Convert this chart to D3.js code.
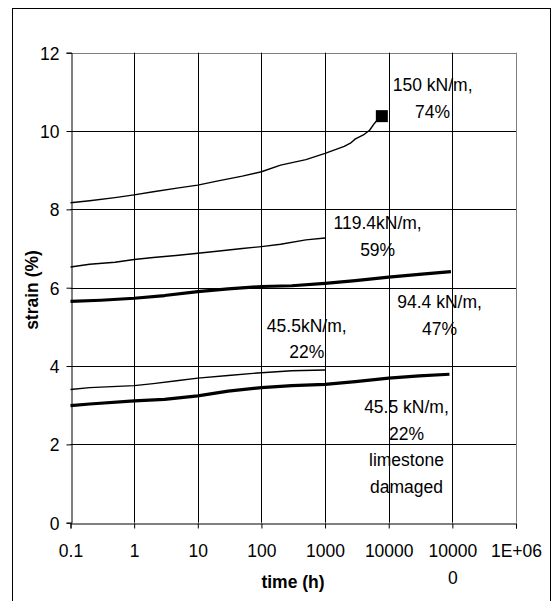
<!DOCTYPE html>
<html>
<head>
<meta charset="utf-8">
<script src="https://cdn.jsdelivr.net/npm/d3@7"></script>
<style>
  body { margin: 0; background: #fff; }
  svg text { font-family: "Liberation Sans", Arial, sans-serif; fill: #000; }
</style>
</head>
<body>
<svg id="chart" width="552" height="601"></svg>
<script>
// creep curves: [time (h), strain (%)]
const s150 = [[0.1,8.17],[0.2,8.22],[0.5,8.3],[1,8.37],[2,8.45],[5,8.55],[10,8.62],[20,8.72],[50,8.85],[100,8.96],[200,9.13],[500,9.27],[1000,9.43],[2000,9.61],[2500,9.69],[3000,9.8],[4000,9.9],[5000,10.02],[6000,10.2],[7000,10.33],[7800,10.38]];
const s119 = [[0.1,6.53],[0.2,6.6],[0.5,6.65],[1,6.72],[2,6.77],[5,6.83],[10,6.88],[20,6.93],[50,7.0],[100,7.05],[200,7.11],[500,7.22],[1000,7.27]];
const s94 = [[0.1,5.65],[0.3,5.68],[1,5.73],[3,5.8],[10,5.9],[30,5.97],[100,6.03],[300,6.05],[1000,6.11],[3000,6.18],[10000,6.27],[30000,6.34],[95000,6.41]];
const s45 = [[0.1,3.4],[0.2,3.45],[1,3.5],[2,3.55],[5,3.63],[10,3.69],[30,3.76],[100,3.83],[300,3.88],[1000,3.9]];
const s45d = [[0.1,2.99],[0.2,3.03],[1,3.11],[3,3.15],[10,3.24],[30,3.36],[100,3.45],[300,3.5],[1000,3.53],[3000,3.6],[10000,3.69],[30000,3.75],[90000,3.79]];

const seriesList = [
  { data: s150, thick: false },
  { data: s119, thick: false },
  { data: s94, thick: true },
  { data: s45, thick: false },
  { data: s45d, thick: true }
];

// failure point of the 150 kN/m test
const rupture = [7800, 10.38];

const xTicks = [0.1, 1, 10, 100, 1000, 10000, 100000, 1000000];
const xTickLabels = ["0.1", "1", "10", "100", "1000", "10000", "10000\n0", "1E+06"];
const yTicks = [0, 2, 4, 6, 8, 10, 12];

// annotation labels: anchor in data units (centre, first baseline)
const labels = [
  { time: 49000, strain: 11.02, lines: ["150 kN/m,", "74%"] },
  { time: 6700, strain: 7.49, lines: ["119.4kN/m,", "59%"] },
  { time: 63000, strain: 5.48, lines: ["94.4 kN/m,", "47%"] },
  { time: 515, strain: 4.87, lines: ["45.5kN/m,", "22%"] },
  { time: 19000, strain: 2.8, lines: ["45.5 kN/m,", "22%", "limestone", "damaged"] }
];

const svg = d3.select("#chart");
const plotLeft = 70.5, plotRight = 516, plotTop = 52.7, plotBottom = 522.7;
const fontSize = "17.5px";

// outer frame
svg.append("rect")
  .attr("x", 12.5).attr("y", 8.5)
  .attr("width", 538).attr("height", 600)
  .attr("fill", "none").attr("stroke", "#000").attr("stroke-width", 1);

const x = d3.scaleLog().domain([0.1, 1e6]).range([plotLeft, plotRight]);
const y = d3.scaleLinear().domain([0, 12]).range([plotBottom, plotTop]);

// grid
const grid = svg.append("g");
grid.selectAll("line.h")
  .data(yTicks.filter(d => d > 0))
  .join("line")
  .attr("x1", plotLeft).attr("x2", plotRight)
  .attr("y1", d => Math.round(y(d)) + 0.5).attr("y2", d => Math.round(y(d)) + 0.5)
  .attr("stroke", d => d === 12 ? "#808080" : "#000")
  .attr("stroke-width", 1);
grid.selectAll("line.v")
  .data(xTicks.slice(1))
  .join("line")
  .attr("x1", d => Math.round(x(d)) + 0.5).attr("x2", d => Math.round(x(d)) + 0.5)
  .attr("y1", plotTop).attr("y2", plotBottom)
  .attr("stroke", d => d === 1e6 ? "#808080" : "#000")
  .attr("stroke-width", 1);

// axes
const yAxis = svg.append("g")
  .attr("transform", `translate(${Math.round(plotLeft) + 0.5},0)`)
  .call(d3.axisLeft(y).tickValues(yTicks).tickSize(5).tickPadding(7).tickFormat(d3.format("d")));
const xAxis = svg.append("g")
  .attr("transform", `translate(0,${Math.round(plotBottom) + 0.5})`)
  .call(d3.axisBottom(x).tickValues(xTicks).tickSize(5).tickPadding(0)
    .tickFormat(() => ""));

[yAxis, xAxis].forEach(a => {
  a.select(".domain").attr("stroke", "#000");
  a.selectAll(".tick line").attr("stroke", "#000");
  a.selectAll("text").attr("font-size", fontSize).attr("font-family", '"Liberation Sans", Arial, sans-serif');
});
yAxis.selectAll(".tick text").attr("dy", "0.36em");

xAxis.selectAll(".tick text")
  .attr("y", 0)
  .attr("dy", null)
  .each(function (d, i) {
    const t = d3.select(this);
    xTickLabels[i].split("\n").forEach((s, k) => {
      t.append("tspan").attr("x", 0).attr("y", 556 - plotBottom + k * 27).text(s);
    });
  });

// curves
const line = d3.line().x(d => x(d[0])).y(d => y(d[1]));
svg.append("g")
  .selectAll("path")
  .data(seriesList)
  .join("path")
  .attr("d", d => line(d.data))
  .attr("fill", "none")
  .attr("stroke", "#000")
  .attr("stroke-width", d => d.thick ? 3.2 : 1.4)
  .attr("stroke-linejoin", "round");

svg.append("rect")
  .attr("x", x(rupture[0]) - 6).attr("y", y(rupture[1]) - 6)
  .attr("width", 12).attr("height", 12)
  .attr("fill", "#000");

// annotations
const ann = svg.append("g");
labels.forEach(l => {
  const t = ann.append("text")
    .attr("text-anchor", "middle")
    .attr("font-size", fontSize);
  l.lines.forEach((s, k) => {
    t.append("tspan")
      .attr("x", x(l.time))
      .attr("y", y(l.strain) + k * 26.5)
      .text(s);
  });
});

// axis titles
svg.append("text")
  .attr("x", 293).attr("y", 588)
  .attr("text-anchor", "middle")
  .attr("font-size", fontSize)
  .attr("font-weight", "bold")
  .text("time (h)");
svg.append("text")
  .attr("transform", "translate(37.5,290) rotate(-90)")
  .attr("text-anchor", "middle")
  .attr("font-size", fontSize)
  .attr("font-weight", "bold")
  .text("strain (%)");
</script>
</body>
</html>
